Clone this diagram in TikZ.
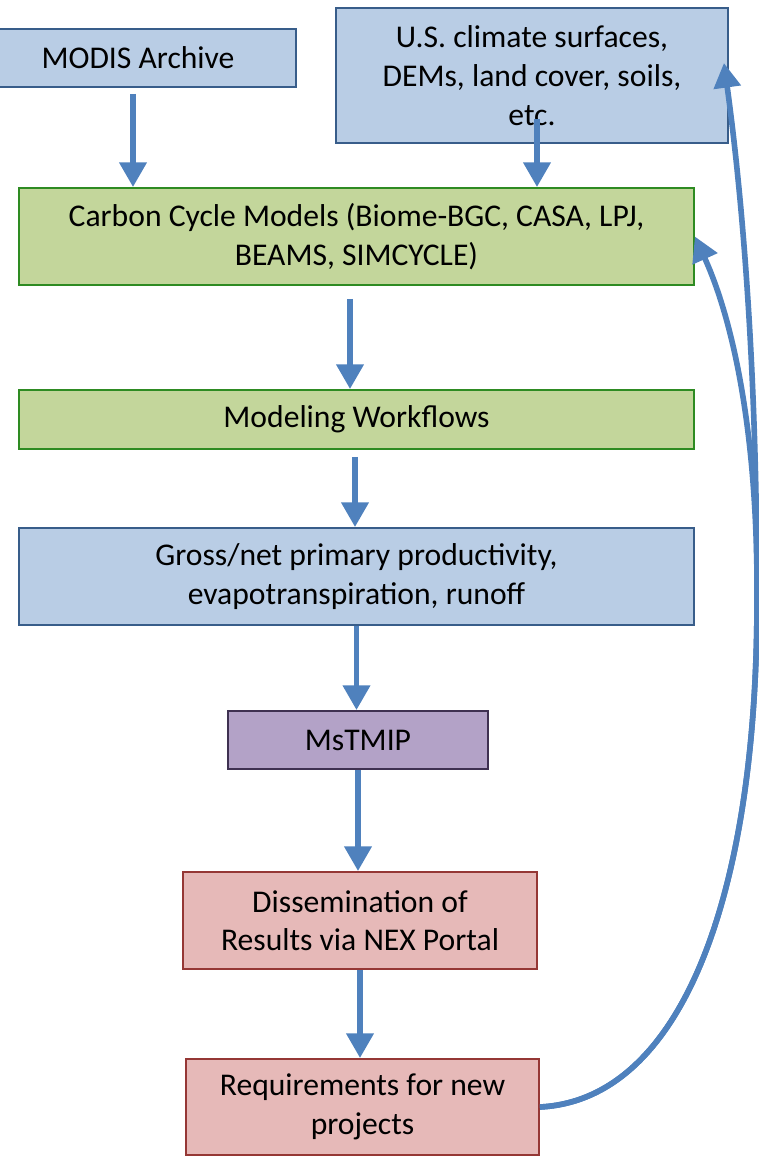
\documentclass[tikz,border=0pt]{standalone}
\usepackage{fontspec}
\setmainfont{Carlito}
\usepackage{tikz}
\usetikzlibrary{arrows.meta}

\definecolor{boxblue}{HTML}{B9CDE5}
\definecolor{lineblue}{HTML}{385D8A}
\definecolor{boxgreen}{HTML}{C3D69B}
\definecolor{linegreen}{HTML}{2E8B22}
\definecolor{boxpurple}{HTML}{B3A2C7}
\definecolor{linepurple}{HTML}{3F3151}
\definecolor{boxred}{HTML}{E6B9B8}
\definecolor{linered}{HTML}{953735}
\definecolor{arrowblue}{HTML}{4F81BD}

\begin{document}
\begin{tikzpicture}[x=0.02cm, y=-0.02cm,
	box/.style={rectangle, line width=1.1pt, align=center, inner sep=0pt, font=\fontsize{18}{22}\selectfont},
	bluebox/.style={box, fill=boxblue, draw=lineblue},
	greenbox/.style={box, fill=boxgreen, draw=linegreen},
	purplebox/.style={box, fill=boxpurple, draw=linepurple},
	redbox/.style={box, fill=boxred, draw=linered},
	flow/.style={line width=3.2pt, draw=arrowblue, -{Triangle[length=14pt,width=15pt]}}]
	\useasboundingbox (0,0) rectangle (759,1157);

	\node[bluebox, minimum width=6.32cm, minimum height=1.16cm] (modis) at (138,58) {MODIS Archive};
	\node[bluebox, minimum width=7.84cm, minimum height=2.7cm] (us) at (532,75.5) {U.S. climate surfaces,\\DEMs, land cover, soils,\\etc.};

	\node[greenbox, minimum width=13.5cm, minimum height=1.94cm] (carbon) at (356.5,236.5) {Carbon Cycle Models (Biome-BGC, CASA, LPJ,\\BEAMS, SIMCYCLE)};
	\node[greenbox, minimum width=13.5cm, minimum height=1.18cm] (workflow) at (356.5,419.5) {Modeling Workflows};
	\node[bluebox, minimum width=13.5cm, minimum height=1.94cm] (gross) at (356.5,576.5) {Gross/net primary productivity,\\evapotranspiration, runoff};

	\node[purplebox, minimum width=5.2cm, minimum height=1.16cm] (mstmip) at (358,740) {MsTMIP};
	\node[redbox, minimum width=7.08cm, minimum height=1.94cm] (dissem) at (360,920.5) {Dissemination of\\Results via NEX Portal};
	\node[redbox, minimum width=7.06cm, minimum height=1.92cm] (req) at (362.5,1107) {Requirements for new\\projects};

	\draw[flow] ([xshift=-0.1cm, yshift=-0.12cm]modis.south) -- ([xshift=-0.1cm]modis.south |- carbon.north);
	\draw[flow] ([xshift=0.1cm, yshift=0.5cm]us.south) -- ([xshift=0.1cm]us.south |- carbon.north);
	\draw[flow] ([xshift=-0.13cm, yshift=-0.26cm]carbon.south) -- ([xshift=-0.13cm]carbon.south |- workflow.north);
	\draw[flow] ([xshift=-0.03cm, yshift=-0.14cm]workflow.south) -- ([xshift=-0.03cm]workflow.south |- gross.north);
	\draw[flow] (gross.south) -- (gross.south |- mstmip.north);
	\draw[flow] (mstmip.south) -- (mstmip.south |- dissem.north);
	\draw[flow] (dissem.south) -- (dissem.south |- req.north);

	% feedback to the inputs
	\coordinate (bend) at (757,600);
	\draw[flow] (req.east) .. controls (680,1100) and (757,900) .. (bend)
		.. controls (757,350) and (740,180) .. ([xshift=-0.1cm, yshift=0.25cm]us.east);
	\draw[flow] (req.east) .. controls (680,1100) and (757,900) .. (bend)
		.. controls (758,430) and (732,318) .. (carbon.east);
\end{tikzpicture}
\end{document}
